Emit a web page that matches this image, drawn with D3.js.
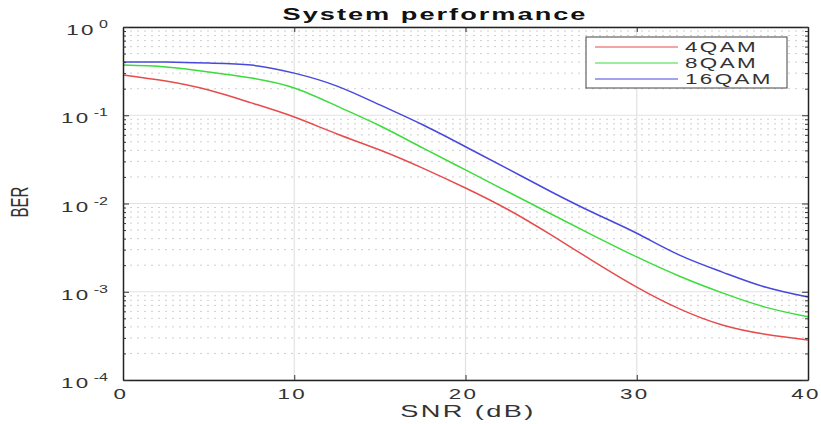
<!DOCTYPE html>
<html>
<head>
<meta charset="utf-8">
<script src="https://cdn.jsdelivr.net/npm/d3@7"></script>
<style>
  body { margin: 0; background: #fff; }
  svg { font-family: "Liberation Sans", Arial, sans-serif; }
</style>
</head>
<body>
<div id="viz"></div>
<script>
// SNR points (dB)
const snr = [0, 2.5, 5, 7.5, 10, 12.5, 15, 17.5, 20, 22.5, 25, 27.5, 30, 32.5, 35, 37.5, 40];

// BER values
const ber4qam = [0.286, 0.244, 0.193, 0.138, 0.0955, 0.0614, 0.0404, 0.0252, 0.015, 0.0085,
  0.0044, 0.0022, 0.00113, 0.00064, 0.00042, 0.00033, 0.000284];
const ber8qam = [0.37, 0.352, 0.31, 0.264, 0.204, 0.127, 0.076, 0.0426, 0.024, 0.0135,
  0.0076, 0.0043, 0.00248, 0.0015, 0.00097, 0.00067, 0.00052];
const ber16qam = [0.40, 0.40, 0.39, 0.37, 0.30, 0.214, 0.131, 0.078, 0.044, 0.0245,
  0.0136, 0.0078, 0.0046, 0.0026, 0.00167, 0.00113, 0.00087];

const seriesNames = ["4QAM", "8QAM", "16QAM"];
const seriesColors = ["#e64c4c", "#3cdc3c", "#4848dc"];
const xTicks = [0, 10, 20, 30, 40];
const yExponents = [0, -1, -2, -3, -4];

const width = 821, height = 424;
const margin = { top: 27, right: 13, bottom: 44, left: 123 };
const stretch = 1.6; // text in the figure is drawn wide

const svg = d3.select("#viz").append("svg")
  .attr("width", width)
  .attr("height", height);

const x = d3.scaleLinear().domain([0, 40]).range([margin.left, width - margin.right]);
const y = d3.scaleLog().domain([1e-4, 1]).range([height - margin.bottom, margin.top]);

// minor values 2..9 per decade
const minorVals = [];
for (let e = -4; e < 0; e++) {
  for (let k = 2; k <= 9; k++) minorVals.push(k * Math.pow(10, e));
}
const majorVals = yExponents.map(e => Math.pow(10, e));

// wide text helper
function wideText(g, tx, ty, size, str, anchor, ls) {
  return g.append("text")
    .attr("transform", `translate(${tx},${ty}) scale(${stretch},1)`)
    .attr("text-anchor", anchor)
    .attr("font-size", size)
    .attr("letter-spacing", ls)
    .attr("fill", "#333")
    .text(str);
}

// grid
const grid = svg.append("g");
grid.selectAll(".minor").data(minorVals).join("line")
  .attr("x1", x(0)).attr("x2", x(40))
  .attr("y1", d => y(d)).attr("y2", d => y(d))
  .attr("stroke", "#cfcfcf").attr("stroke-width", 1)
  .attr("stroke-dasharray", "2,5");
grid.selectAll(".majorY").data(majorVals).join("line")
  .attr("x1", x(0)).attr("x2", x(40))
  .attr("y1", d => y(d)).attr("y2", d => y(d))
  .attr("stroke", "#e2e2e2").attr("stroke-width", 1.2);
grid.selectAll(".majorX").data(xTicks.slice(1, -1)).join("line")
  .attr("x1", d => x(d)).attr("x2", d => x(d))
  .attr("y1", y(1e-4)).attr("y2", y(1))
  .attr("stroke", "#e2e2e2").attr("stroke-width", 1.2);

// curves
const line = d3.line()
  .x((d, i) => x(snr[i]))
  .y(d => y(d))
  .curve(d3.curveNatural);

[ber4qam, ber8qam, ber16qam].forEach((data, i) => {
  svg.append("path")
    .datum(data)
    .attr("fill", "none")
    .attr("stroke", seriesColors[i])
    .attr("stroke-width", 1.5)
    .attr("d", line);
});

// axes, ticks pointing in
svg.append("g")
  .attr("transform", `translate(0,${y(1e-4)})`)
  .call(d3.axisBottom(x).tickValues(xTicks).tickSize(-5).tickFormat("").tickSizeOuter(0));
svg.append("g")
  .attr("transform", `translate(0,${y(1)})`)
  .call(d3.axisTop(x).tickValues(xTicks).tickSize(-5).tickFormat("").tickSizeOuter(0));

svg.append("g")
  .attr("transform", `translate(${x(0)},0)`)
  .call(d3.axisLeft(y).tickValues(majorVals).tickSize(-6).tickFormat("").tickSizeOuter(0));
svg.append("g")
  .attr("transform", `translate(${x(0)},0)`)
  .call(d3.axisLeft(y).tickValues(minorVals).tickSize(-3).tickFormat("").tickSizeOuter(0))
  .call(g => g.select(".domain").remove());
svg.append("g")
  .attr("transform", `translate(${x(40)},0)`)
  .call(d3.axisRight(y).tickValues(majorVals).tickSize(-6).tickFormat("").tickSizeOuter(0));
svg.append("g")
  .attr("transform", `translate(${x(40)},0)`)
  .call(d3.axisRight(y).tickValues(minorVals).tickSize(-3).tickFormat("").tickSizeOuter(0))
  .call(g => g.select(".domain").remove());

svg.selectAll(".domain").attr("stroke", "#222").attr("stroke-width", 1.5);
svg.selectAll(".tick line").attr("stroke", "#333");

// x tick labels
const labels = svg.append("g");
xTicks.forEach(t => wideText(labels, x(t) - 2, 399, 14, String(t), "middle", 1.5));

// y tick labels: 10 with superscript exponent
yExponents.forEach(e => {
  const t = labels.append("text")
    .attr("transform", `translate(108,${y(Math.pow(10, e)) + 8}) scale(${stretch},1)`)
    .attr("text-anchor", "end")
    .attr("fill", "#333");
  t.append("tspan").attr("font-size", 14).attr("letter-spacing", 1.5).text("10");
  t.append("tspan").attr("font-size", 10).attr("dx", 2).attr("dy", -7).text(String(e));
});

// title and axis labels
wideText(svg, 435, 20, 17, "System performance", "middle", 1.25)
  .attr("font-weight", "bold").attr("fill", "#111");
wideText(svg, 468, 417, 17, "SNR (dB)", "middle", 1.5);

svg.append("text")
  .attr("transform", `translate(28,202) scale(${stretch},1) rotate(-90)`)
  .attr("text-anchor", "middle")
  .attr("font-size", 15)
  .attr("fill", "#333")
  .text("BER");

// legend
const legend = svg.append("g");
legend.append("rect")
  .attr("x", 586).attr("y", 37)
  .attr("width", 201).attr("height", 51)
  .attr("fill", "#fff")
  .attr("stroke", "#444").attr("stroke-width", 1);
seriesNames.forEach((name, i) => {
  const ly = 47 + i * 16;
  legend.append("line")
    .attr("x1", 595).attr("x2", 678)
    .attr("y1", ly).attr("y2", ly)
    .attr("stroke", seriesColors[i]).attr("stroke-width", 1.2);
  wideText(legend, 685, ly + 5, 14, name, "start", 1.5);
});
</script>
</body>
</html>
